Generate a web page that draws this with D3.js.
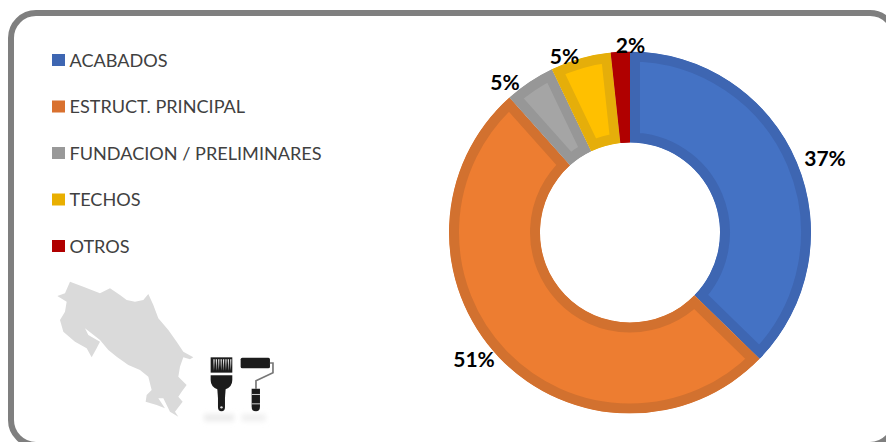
<!DOCTYPE html>
<html><head><meta charset="utf-8">
<style>html,body{margin:0;padding:0;background:#fff;overflow:hidden}svg{display:block}text{font-family:Lato,"Open Sans",sans-serif}</style>
<script src="https://cdn.jsdelivr.net/npm/d3@7"></script></head><body><svg id="c" width="886" height="442"></svg>
<script>
const categories=["ACABADOS","ESTRUCT. PRINCIPAL","FUNDACION / PRELIMINARES","TECHOS","OTROS"];
const values=[37.3,51.1,4.5,5.4,1.7];
const labels=["37%","51%","5%","5%","2%"];
const fills=["#4472C4","#ED7D31","#A5A5A5","#FFC000","#B00000"];
const edges=["#3E66B2","#D2712F","#979797","#E5AE0A","#B00000"];
const swatches=["#3E66B2","#D9712F","#999999","#E9AF00","#B00000"];
const labelPos=[[825,159],[474,360],[505,83],[564.5,57],[630.5,45.5]];
const W=886,H=442,cx=630,cy=232.5,R=181,r0=90;
const svg=d3.select("#c");
const defs=svg.append("defs");
defs.append("filter").attr("id","soft").append("feGaussianBlur").attr("stdDeviation",0.6);
defs.append("filter").attr("id","icon").attr("x","-10%").attr("y","-10%").attr("width","120%").attr("height","120%").append("feGaussianBlur").attr("stdDeviation",1.2);
defs.append("filter").attr("id","shadow").attr("x","-50%").attr("y","-100%").attr("width","200%").attr("height","300%").append("feGaussianBlur").attr("stdDeviation",8);
svg.append("rect").attr("x",11).attr("y",13).attr("width",884).attr("height",432).attr("rx",25)
  .attr("fill","#fff").attr("stroke","#7F7F7F").attr("stroke-width",6);

const pie=d3.pie().value(d=>d).sort(null)(values);
const arc=d3.arc().innerRadius(r0).outerRadius(R);
const g=svg.append("g").attr("transform",`translate(${cx},${cy})`);
pie.forEach((p,i)=>{
  defs.append("clipPath").attr("id","s"+i).append("path").attr("d",arc(p));
  g.append("path").attr("d",arc(p)).attr("fill",fills[i]).attr("stroke",edges[i]).attr("stroke-width",20)
   .attr("stroke-linejoin","miter").attr("clip-path",`url(#s${i})`);
});
const lg=svg.append("g");
const legendY=d3.scalePoint().domain(categories).range([60,246]);
categories.forEach((c,i)=>{
  lg.append("rect").attr("x",52).attr("y",legendY(c)-6).attr("width",13).attr("height",12).attr("fill",swatches[i]);
  lg.append("text").attr("x",69.5).attr("y",legendY(c)+6.5).attr("font-size",18.1).attr("fill","#404040").text(c);
});
labels.forEach((t,i)=>{
  svg.append("text").attr("x",labelPos[i][0]).attr("y",labelPos[i][1]+7).attr("text-anchor","middle")
   .attr("font-size",21).attr("font-weight",700).attr("fill","#000").text(t);
});

// Decoration: map outline and tool icons (zoomed-crop coordinates)
const deco=svg.append("g").attr("transform","translate(0,270) scale(0.3333)");
const map=[[172,78],[195,70],[210,35],[250,50],[300,70],[330,55],[360,75],[380,90],[405,95],[430,90],[445,72],[460,105],[475,145],[505,180],[530,215],[550,245],[580,262],[570,268],[550,262],[540,290],[535,320],[560,345],[545,365],[535,380],[548,395],[525,425],[535,440],[510,425],[490,385],[475,385],[495,415],[470,405],[437,395],[440,375],[455,360],[445,320],[420,300],[385,285],[350,260],[325,240],[300,210],[255,175],[265,195],[300,215],[290,235],[275,262],[260,235],[225,215],[190,185],[180,150],[195,125],[200,95],[172,78]];
deco.append("path").attr("d",d3.line()(map)+"Z").attr("fill","#DADADA").attr("filter","url(#soft)");
deco.append("rect").attr("x",612).attr("y",432).attr("width",90).attr("height",22).attr("fill","#ececec").attr("filter","url(#shadow)");
deco.append("rect").attr("x",725).attr("y",432).attr("width",72).attr("height",22).attr("fill","#f0f0f0").attr("filter","url(#shadow)");
const ink="#1f1f1f";
const icons=deco.append("g").attr("filter","url(#icon)");
icons.append("path").attr("fill",ink).attr("d","M632 262H697V308H632Z");
d3.range(8).forEach(i=>{const x=640+i*7.2;
  icons.append("path").attr("fill","#e8e8e8").attr("d",`M${x} 268H${x+4}L${x+2} 302Z`);});
icons.append("path").attr("fill",ink).attr("d","M632 316H697V330Q697 350 677 358L675 384V412Q675 424 664.500 424Q654 424 654 412V384L652 358Q632 350 632 330Z");
icons.append("circle").attr("cx",664.5).attr("cy",412).attr("r",3.5).attr("fill","#ddd");
icons.append("rect").attr("x",722).attr("y",263).attr("width",88).attr("height",32).attr("rx",5).attr("fill",ink);
icons.append("path").attr("fill","none").attr("stroke","#777").attr("stroke-width",5).attr("d","M810 279H819V308L768 332V356");
icons.append("path").attr("fill",ink).attr("d","M755 356H780V410Q780 424 767.500 424Q755 424 755 410Z");
icons.append("rect").attr("x",755).attr("y",372).attr("width",25).attr("height",3).attr("fill","#ccc");
icons.append("rect").attr("x",755).attr("y",400).attr("width",25).attr("height",3).attr("fill","#ccc");
</script></body></html>
